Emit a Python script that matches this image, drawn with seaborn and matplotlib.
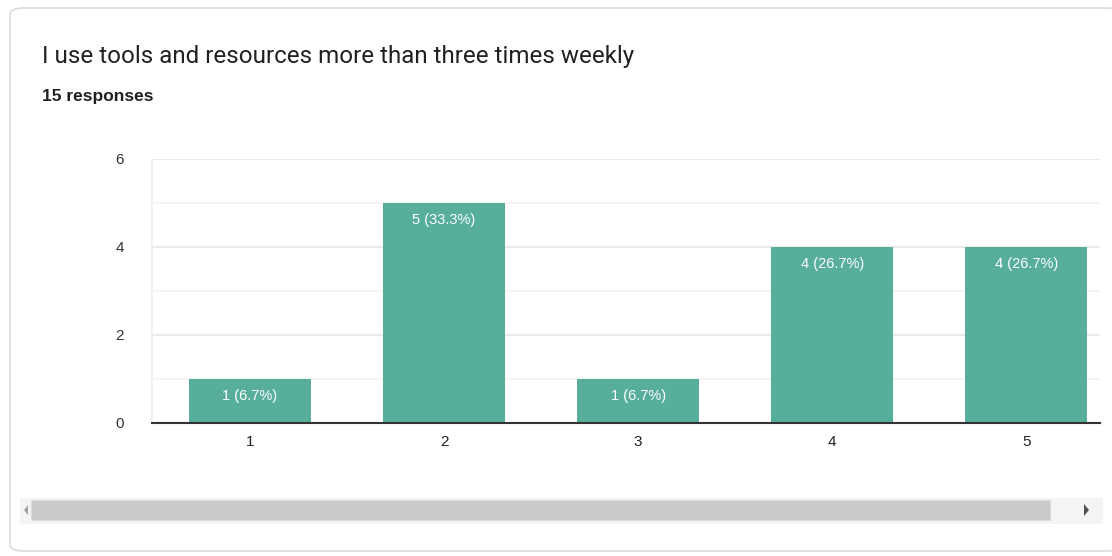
import matplotlib
matplotlib.use("Agg")
import matplotlib.pyplot as plt
from matplotlib.patches import FancyBboxPatch, Rectangle, Polygon
import seaborn as sns
import pandas as pd

title = "I use tools and resources more than three times weekly"
subtitle = "15 responses"
categories = ["1", "2", "3", "4", "5"]
counts = [1, 5, 1, 4, 4]
labels = ["1 (6.7%)", "5 (33.3%)", "1 (6.7%)", "4 (26.7%)", "4 (26.7%)"]
yticks = [0, 2, 4, 6]

sns.set_theme(style="white")
plt.rcParams['font.family'] = ['Roboto', 'DejaVu Sans']

W, H = 1112, 556
fig = plt.figure(figsize=(W / 100, H / 100), dpi=100)
fig.patch.set_facecolor("white")

def fx(x): return x / W
def fy(y): return 1 - y / H

# card
card = FancyBboxPatch((fx(10), fy(551)), fx(1120) - fx(10), fy(8) - fy(551),
                      boxstyle="round,pad=0,rounding_size=0.012",
                      transform=fig.transFigure, facecolor="white",
                      edgecolor="#dadce0", linewidth=1.2, zorder=-5)
fig.patches.append(card)

fig.text(fx(42), fy(56), title, fontsize=17.4, color="#202124", va="center", ha="left")
fig.text(fx(42), fy(97), subtitle, fontsize=12.5, color="#202124", fontweight="bold",
         va="center", ha="left", family=["Liberation Sans", "DejaVu Sans"])

ax = fig.add_axes([fx(152), fy(423), fx(1100) - fx(152), fy(159) - fy(423)])
ax.set_zorder(3)
ax.set_facecolor("none")
df = pd.DataFrame({"answer": categories, "count": counts})
sns.barplot(data=df, x="answer", y="count", color="#57ae9b", saturation=1,
            width=0.63, ax=ax, zorder=3)
for p in ax.patches:
    p.set_edgecolor("none")

ax.set_xlim(-0.505, 4.38)
ax.set_ylim(0, 6)
ax.set_yticks(yticks)
ax.set_yticks([1, 3, 5], minor=True)
ax.grid(axis="y", which="major", color="#ebebeb", linewidth=1.5, zorder=0)
ax.grid(axis="y", which="minor", color="#f4f4f4", linewidth=1.5, zorder=0)
ax.set_axisbelow(True)
for s in ["top", "right"]:
    ax.spines[s].set_visible(False)
ax.spines["left"].set_color("#eeeeee")
ax.spines["left"].set_linewidth(1.2)
ax.spines["bottom"].set_color("#333333")
ax.spines["bottom"].set_linewidth(1.5)
ax.spines["bottom"].set_zorder(5)
ax.set_xlabel("")
ax.set_ylabel("")
ax.tick_params(axis="y", which="both", length=0, pad=20, labelsize=11, labelcolor="#333333")
ax.tick_params(axis="x", length=0, pad=9, labelsize=11, labelcolor="#222222")
for t in ax.get_xticklabels() + ax.get_yticklabels():
    t.set_family(["Liberation Sans", "DejaVu Sans"])

for i, (c, lab) in enumerate(zip(counts, labels)):
    ax.annotate(lab, (i, c), xytext=(0, -7), textcoords="offset points",
                ha="center", va="top", color="white", fontsize=10.5, zorder=6,
                family=["Liberation Sans", "DejaVu Sans"])

# scrollbar
fig.patches.append(Rectangle((fx(20), fy(524)), fx(1103) - fx(20), fy(498) - fy(524),
                             transform=fig.transFigure, facecolor="#f4f4f4",
                             edgecolor="none", zorder=1))
fig.patches.append(Rectangle((fx(31), fy(520)), fx(1050) - fx(31), fy(500) - fy(520),
                             transform=fig.transFigure, facecolor="#c9cacc",
                             edgecolor="#dcdcdc", linewidth=0.8, zorder=2))
fig.patches.append(Polygon([(fx(28), fy(505)), (fx(28), fy(515)), (fx(24), fy(510))],
                           closed=True, transform=fig.transFigure,
                           facecolor="#a0a0a0", edgecolor="none", zorder=2))
fig.patches.append(Polygon([(fx(1084), fy(504)), (fx(1084), fy(516)), (fx(1089), fy(510))],
                           closed=True, transform=fig.transFigure,
                           facecolor="#505050", edgecolor="none", zorder=2))

fig.savefig("out.png", dpi=100)
